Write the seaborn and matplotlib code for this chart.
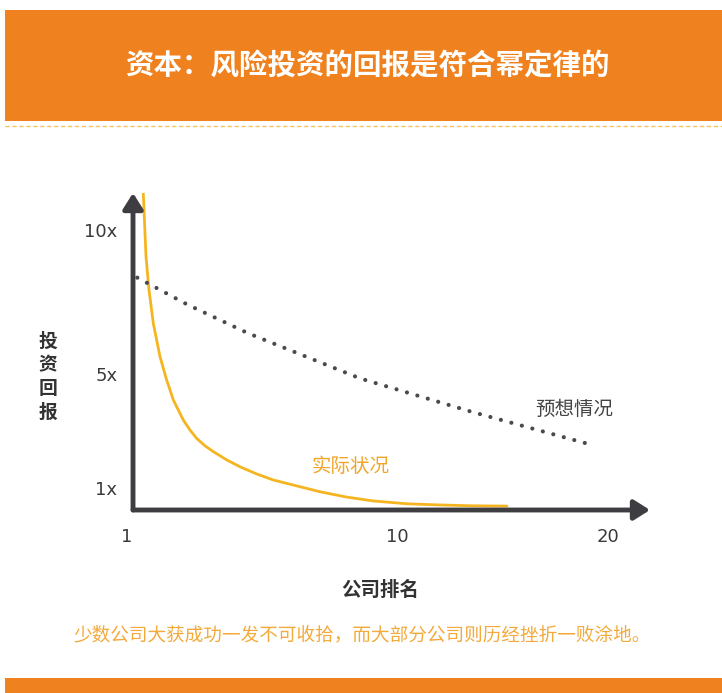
import numpy as np
import pandas as pd
import matplotlib
matplotlib.use('Agg')
import matplotlib.pyplot as plt
from matplotlib.patches import Rectangle
from matplotlib.lines import Line2D
import seaborn as sns

# data (company rank vs. return multiple)
actual_rank = [1.363, 1.427, 1.498, 1.602, 1.768, 1.939, 2.025, 2.113, 2.383, 2.570,
               2.760, 3.003, 3.250, 3.663, 4.087, 4.639, 5.207, 6.905, 7.9, 9.0,
               10.43, 11.87, 13.37, 14.97]
actual_return = [11.28, 9.07, 7.91, 6.75, 5.59, 4.77, 4.43, 4.08, 3.38, 3.03,
                 2.74, 2.48, 2.28, 1.99, 1.75, 1.50, 1.29, 0.88, 0.70, 0.56,
                 0.46, 0.42, 0.39, 0.38]
expected_rank = [1.226, 2.5, 4.359, 8.472, 13.38, 18.88]
expected_return = [8.34, 7.4, 6.40, 4.83, 3.65, 2.57]

x_ticks = [1, 10, 20]
x_tick_labels = ['1', '10', '20']
y_ticks = [1, 5, 10]
y_tick_labels = ['1x', '5x', '10x']

title = '资本：风险投资的回报是符合幂定律的'
caption = '少数公司大获成功一发不可收拾，而大部分公司则历经挫折一败涂地。'

sns.set_style('white')
plt.rcParams['font.family'] = ['Noto Sans CJK SC', 'DejaVu Sans']

ORANGE = '#f0811f'
YELLOW = '#f5b520'
DARK = '#3e3e42'

W, H = 722, 693
fig = plt.figure(figsize=(W / 100, H / 100), dpi=100)

# header / footer bands
fig.add_artist(Rectangle((5 / W, 1 - 121 / H), 1, 111 / H, transform=fig.transFigure,
                         facecolor=ORANGE, edgecolor='none'))
fig.add_artist(Rectangle((5 / W, 0), 1, 15 / H, transform=fig.transFigure,
                         facecolor=ORANGE, edgecolor='none'))
fig.add_artist(Line2D([5 / W, 1], [1 - 126 / H, 1 - 126 / H], transform=fig.transFigure,
                      color='#f7c35a', lw=1, ls=(0, (3, 2))))
fig.text(367 / W, 1 - 67 / H, title, color='white', fontsize=20.5, fontweight='bold',
         ha='center', va='center')

# main axes: x px 127..650, y px 510..193
ax = fig.add_axes([127 / W, 1 - 510 / H, 523 / W, 317 / H])
p = 0.7
ax.set_xscale('function', functions=(lambda v: np.power(np.clip(v, 1e-9, None), p),
                                     lambda v: np.power(np.clip(v, 1e-9, None), 1 / p)))

df_actual = pd.DataFrame({'rank': actual_rank, 'ret': actual_return})
df_expected = pd.DataFrame({'rank': expected_rank, 'ret': expected_return})

sns.lineplot(data=df_actual, x='rank', y='ret', ax=ax, color=YELLOW, lw=2,
             sort=False, estimator=None)
sns.lineplot(data=df_expected, x='rank', y='ret', ax=ax, color='#4a4a4e', lw=3,
             sort=False, estimator=None, dashes=False)
ax.lines[-1].set_linestyle((0, (0.01, 2.6)))
ax.lines[-1].set_dash_capstyle('round')
ax.lines[0].set_solid_joinstyle('round')

ax.set_xlim(1.0, 22.25)
ax.set_ylim(0.244, 11.29)
for s in ax.spines.values():
    s.set_visible(False)

# axis arrows
x0 = 1.13
arrow = dict(arrowstyle='-|>,head_length=0.95,head_width=0.6', color=DARK, lw=3.5,
             shrinkA=0, shrinkB=0, mutation_scale=10)
ax.annotate('', xy=(1.0, 0), xytext=(x0, 0),
            xycoords=('axes fraction', 'axes fraction'),
            textcoords=('data', 'axes fraction'), arrowprops=arrow)
ax.annotate('', xy=(x0, 1.0), xytext=(x0, 0),
            xycoords=('data', 'axes fraction'),
            textcoords=('data', 'axes fraction'), arrowprops=arrow)

ax.set_xticks(x_ticks)
ax.set_xticklabels(x_tick_labels)
ax.set_yticks(y_ticks)
ax.set_yticklabels(y_tick_labels)
ax.minorticks_off()
ax.tick_params(axis='x', length=0, pad=13, labelsize=13, labelcolor='#3a3a3a')
ax.tick_params(axis='y', length=0, pad=7, labelsize=13, labelcolor='#3a3a3a')
for lab in ax.get_xticklabels() + ax.get_yticklabels():
    lab.set_family(['DejaVu Sans'])
ax.set_xlabel('')
ax.set_ylabel('')

# series labels
fig.text(574 / W, 1 - 409 / H, '预想情况', color='#444444', fontsize=14,
         fontweight='medium', ha='center', va='center')
fig.text(351 / W, 1 - 467 / H, '实际状况', color='#f2a526', fontsize=14,
         fontweight='medium', ha='center', va='center')

# axis titles
fig.text(48 / W, 1 - 377 / H, '投\n资\n回\n报', color='#333333', fontsize=13.5,
         fontweight='bold', ha='center', va='center', linespacing=1.3)
fig.text(380 / W, 1 - 590 / H, '公司排名', color='#333333', fontsize=14,
         fontweight='bold', ha='center', va='center')

fig.text(362 / W, 1 - 635 / H, caption, color='#f3aa3a', fontsize=13.4,
         ha='center', va='center')

fig.savefig('out.png', dpi=100, facecolor='white')
